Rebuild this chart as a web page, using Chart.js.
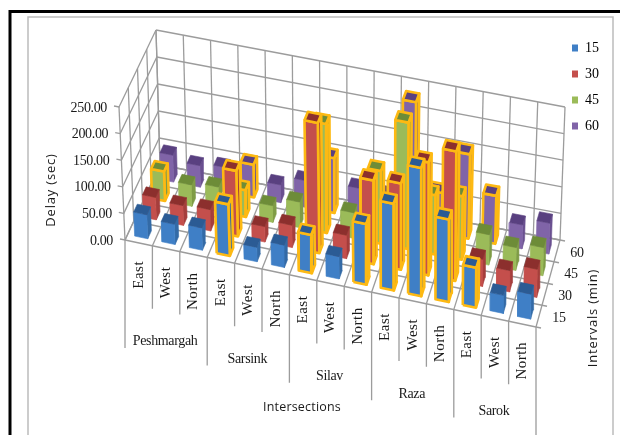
<!DOCTYPE html>
<html lang="en">

<head>
    <meta charset="UTF-8">
    <title>Intersection delay by interval</title>
    <script src="https://cdn.jsdelivr.net/npm/chart.js@4/dist/chart.umd.min.js"></script>
    <style>
        body {
            margin: 0;
            background: #fff;
        }

        canvas {
            display: block;
        }
    </style>
</head>

<body>
    <canvas id="chart" width="620" height="435"></canvas>
    <script>
        // delay in seconds, one list per interval, in approach order
        const intersections = ['Peshmargah', 'Sarsink', 'Silav', 'Raza', 'Sarok'];
        const approaches = ['East', 'West', 'North'];
        const intervals = ['15', '30', '45', '60'];
        const delayTicks = [0, 50, 100, 150, 200, 250];
        const delay15 = [45, 38, 42, 97, 27, 42, 72, 42, 114, 163, 241, 155, 75, 34, 47];
        const delay30 = [42, 37, 40, 123, 29, 42, 244, 44, 157, 162, 212, 243, 51, 40, 53];
        const delay45 = [55, 40, 46, 50, 31, 48, 204, 48, 136, 237, 111, 119, 57, 43, 53];
        const delay60 = [50, 40, 46, 61, 33, 50, 102, 55, 52, 236, 76, 158, 90, 45, 58];
        const delays = [delay15, delay30, delay45, delay60];

        // bars that carry the gold outline, per interval
        const outlined15 = [3, 6, 8, 9, 10, 11, 12];
        const outlined30 = [3, 6, 8, 9, 10, 11];
        const outlined45 = [0, 3, 6, 8, 9, 10, 11];
        const outlined60 = [3, 6, 9, 10, 11, 12];
        const outlined = [outlined15, outlined30, outlined45, outlined60];

        const faceColors = [
            { front: '#3f7fc6', side: '#336aa6', top: '#2b5b94' },
            { front: '#c44f4c', side: '#a53e3c', top: '#8c2f2d' },
            { front: '#9bbb59', side: '#7f9c46', top: '#6d8c38' },
            { front: '#8064a8', side: '#6a5090', top: '#594080' }
        ];
        const GOLD = '#fdb913';
        const GRID = '#9c9c9c';

        // box corners on screen: [x, y] for u = category, v = depth, w = delay
        const BOX = {
            frontLeftLow: [125, 240], frontRightLow: [536, 327],
            backLeftLow: [160, 165], backRightLow: [560, 240],
            frontLeftHigh: [119, 107], frontRightHigh: [538, 194],
            backLeftHigh: [156, 30], backRightHigh: [565, 107]
        };
        const CATS = intersections.length * approaches.length;
        const ROWS = intervals.length;
        const MAX = delayTicks[delayTicks.length - 1];
        const BAR_W = 0.48;
        const BAR_D = 0.42;

        function mix(a, b, t) {
            return [a[0] + (b[0] - a[0]) * t, a[1] + (b[1] - a[1]) * t];
        }

        // 3d chart position to x/y values on the chart's scales
        function project(u, v, w) {
            const su = u / CATS, sv = v / ROWS, sw = w / MAX;
            const low = mix(mix(BOX.frontLeftLow, BOX.frontRightLow, su), mix(BOX.backLeftLow, BOX.backRightLow, su), sv);
            const high = mix(mix(BOX.frontLeftHigh, BOX.frontRightHigh, su), mix(BOX.backLeftHigh, BOX.backRightHigh, su), sv);
            const p = mix(low, high, sw);
            return { x: p[0], y: p[1] };
        }

        function gridLine(points) {
            return {
                data: points, showLine: true, fill: false, pointRadius: 0,
                borderColor: GRID, borderWidth: 1.3, tension: 0
            };
        }

        function face(points, color, edge) {
            return {
                data: points.concat([points[0]]), showLine: true, fill: 'shape', pointRadius: 0, tension: 0,
                backgroundColor: color,
                borderColor: edge || color,
                borderWidth: edge ? 2.6 : 0.6,
                borderJoinStyle: 'round'
            };
        }

        function gridDatasets() {
            const out = [];
            for (let i = 0; i <= CATS; i++) {
                // back wall, floor and the divider hanging under the front edge
                out.push(gridLine([project(i, ROWS, 0), project(i, ROWS, MAX)]));
                out.push(gridLine([project(i, 0, 0), project(i, ROWS, 0)]));
                const drop = i % approaches.length === 0 ? 108 : 63;
                const start = project(i, 0, 0);
                out.push(gridLine([start, { x: start.x, y: start.y + drop }]));
            }
            for (let r = 0; r <= ROWS; r++) {
                out.push(gridLine([project(0, r, 0), project(CATS, r, 0)]));
                out.push(gridLine([project(0, r, 0), project(0, r, MAX)]));
                const edge = project(CATS, r, 0);
                out.push(gridLine([edge, { x: edge.x + 5, y: edge.y + 1 }]));
            }
            delayTicks.forEach(function (t) {
                out.push(gridLine([project(0, ROWS, t), project(CATS, ROWS, t)]));
                const front = project(0, 0, t);
                out.push(gridLine([{ x: front.x - 5, y: front.y - 1 }, front, project(0, ROWS, t)]));
            });
            return out;
        }

        function barDatasets() {
            const out = [];
            for (let s = ROWS - 1; s >= 0; s--) {
                for (let i = 0; i < CATS; i++) {
                    const val = delays[s][i];
                    const u0 = i + 0.5 - BAR_W / 2, u1 = i + 0.5 + BAR_W / 2;
                    const v0 = s + 0.5 - BAR_D / 2, v1 = s + 0.5 + BAR_D / 2;
                    const col = faceColors[s];
                    const edge = outlined[s].includes(i) ? GOLD : null;
                    out.push(face([project(u1, v0, 0), project(u1, v1, 0), project(u1, v1, val), project(u1, v0, val)], col.side, edge));
                    out.push(face([project(u0, v0, 0), project(u1, v0, 0), project(u1, v0, val), project(u0, v0, val)], col.front, edge));
                    out.push(face([project(u0, v0, val), project(u1, v0, val), project(u1, v1, val), project(u0, v1, val)], col.top, edge));
                }
            }
            return out;
        }

        function text(ctx, str, x, y, font, align, angle, spacing) {
            ctx.save();
            ctx.translate(x, y);
            ctx.rotate(angle || 0);
            ctx.font = font;
            ctx.letterSpacing = spacing || '0px';
            ctx.textAlign = align || 'center';
            ctx.textBaseline = 'middle';
            ctx.fillStyle = '#1a1a1a';
            ctx.fillText(str, 0, 0);
            ctx.restore();
        }

        const SERIF = '"Liberation Serif"';
        const SANS = '"Open Sans"';

        const frameAndLabels = {
            id: 'frameAndLabels',
            afterLayout(chart) {
                // legend sits in the top right corner, outside the plot box
                const legend = chart.legend;
                legend.left = 560;
                legend.right = legend.left + legend.width;
                legend.top = 29;
                legend.bottom = legend.top + legend.height;
            },
            beforeDraw(chart) {
                const ctx = chart.ctx;
                ctx.save();
                ctx.fillStyle = '#fff';
                ctx.fillRect(0, 0, 620, 435);
                ctx.strokeStyle = '#bcbcbc';
                ctx.lineWidth = 1.5;
                ctx.beginPath();
                ctx.moveTo(28, 435);
                ctx.lineTo(28, 17);
                ctx.lineTo(613, 17);
                ctx.lineTo(613, 435);
                ctx.stroke();
                ctx.strokeStyle = '#000';
                ctx.lineWidth = 3;
                ctx.beginPath();
                ctx.moveTo(10, 435);
                ctx.lineTo(10, 11.5);
                ctx.lineTo(620, 11.5);
                ctx.stroke();
                ctx.restore();
            },
            afterDraw(chart) {
                const ctx = chart.ctx;
                const sx = chart.scales.x, sy = chart.scales.y;
                const px = function (p) { return { x: sx.getPixelForValue(p.x), y: sy.getPixelForValue(p.y) }; };

                delayTicks.forEach(function (t) {
                    const p = px(project(0, 0, t));
                    text(ctx, t.toFixed(2), p.x - 12, p.y + 1, '14px ' + SERIF, 'right', 0, '-0.35px');
                });
                intervals.forEach(function (name, r) {
                    const p = px(project(CATS, r + 0.5, 0));
                    text(ctx, name, p.x + 20, p.y + 2, '14px ' + SERIF, 'center', 0, '-0.35px');
                });
                for (let i = 0; i < CATS; i++) {
                    const p = px(project(i + 0.5, 0, 0));
                    text(ctx, approaches[i % approaches.length], p.x, p.y + 18, '15px ' + SERIF, 'right', -Math.PI / 2, '0.5px');
                }
                intersections.forEach(function (name, g) {
                    const p = px(project((g + 0.5) * approaches.length, 0, 0));
                    text(ctx, name, p.x - 1, p.y + 93, '14px ' + SERIF, 'center', 0, '-0.35px');
                });
                text(ctx, 'Intersections', 302, 407, '12.5px ' + SANS, 'center', 0, '0.2px');
                text(ctx, 'Delay (sec)', 51, 190, '13px ' + SANS, 'center', -Math.PI / 2, '0.8px');
                text(ctx, 'Intervals (min)', 593, 318, '13px ' + SANS, 'center', -Math.PI / 2, '0.8px');
            }
        };

        // datasets are painted last to first, so reverse the back-to-front list
        const painted = gridDatasets().concat(barDatasets()).reverse();

        new Chart(document.getElementById('chart'), {
            type: 'scatter',
            data: { datasets: painted },
            plugins: [frameAndLabels],
            options: {
                responsive: false,
                animation: false,
                events: [],
                layout: { padding: 0 },
                scales: {
                    x: { type: 'linear', display: false, min: 0, max: 620 },
                    y: { type: 'linear', display: false, min: 0, max: 435, reverse: true }
                },
                plugins: {
                    tooltip: { enabled: false },
                    filler: { propagate: false },
                    legend: {
                        position: 'chartArea',
                        align: 'start',
                        labels: {
                            boxWidth: 6,
                            boxHeight: 7,
                            padding: 12,
                            color: '#1a1a1a',
                            font: { family: 'Liberation Serif', size: 14 },
                            generateLabels() {
                                return intervals.map(function (name, s) {
                                    return { text: name, fillStyle: faceColors[s].front, strokeStyle: faceColors[s].front, lineWidth: 0, hidden: false };
                                });
                            }
                        }
                    }
                }
            }
        });
    </script>
</body>

</html>
